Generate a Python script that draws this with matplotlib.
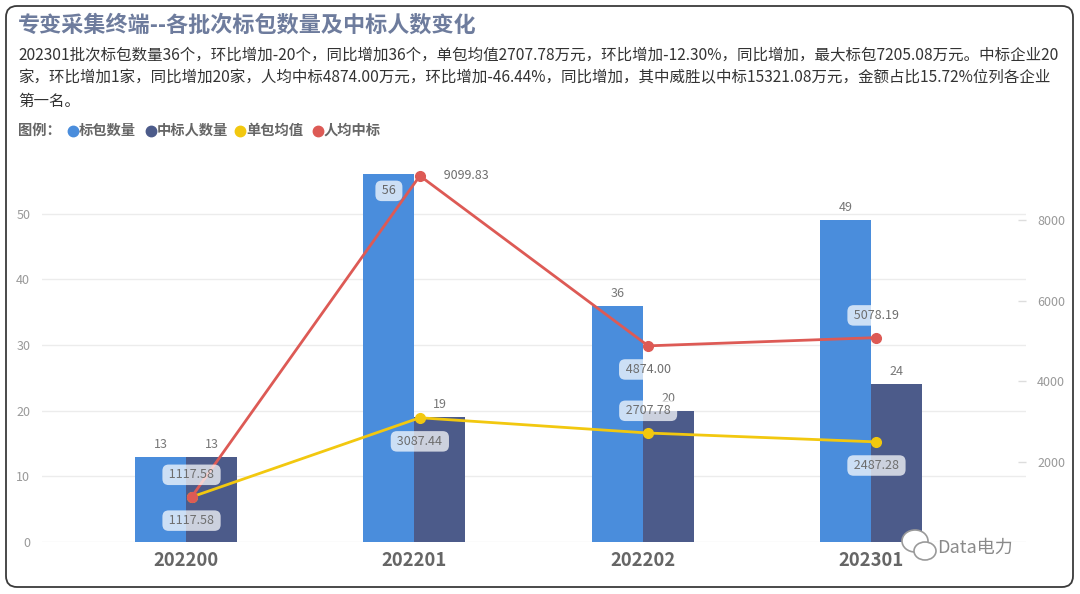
import numpy as np
import matplotlib
matplotlib.use('Agg')
import matplotlib.pyplot as plt
from matplotlib.patches import FancyBboxPatch, Ellipse
from matplotlib.lines import Line2D
from matplotlib.transforms import IdentityTransform

plt.rcParams['font.family'] = ['Noto Sans CJK SC', 'DejaVu Sans']

# data
batches = ['202200', '202201', '202202', '202301']
pkg_count = [13, 56, 36, 49]
winner_count = [13, 19, 20, 24]
avg_per_pkg = [1117.58, 3087.44, 2707.78, 2487.28]
avg_per_winner = [1117.58, 9099.83, 4874.00, 5078.19]

title = '专变采集终端--各批次标包数量及中标人数变化'
summary = [
    '202301批次标包数量36个，环比增加-20个，同比增加36个，单包均值2707.78万元，环比增加-12.30%，同比增加，最大标包7205.08万元。中标企业20',
    '家，环比增加1家，同比增加20家，人均中标4874.00万元，环比增加-46.44%，同比增加，其中威胜以中标15321.08万元，金额占比15.72%位列各企业',
    '第一名。',
]
legend_names = ['标包数量', '中标人数量', '单包均值', '人均中标']

# styles
W, H = 1080, 594
C_BLUE = '#4a8ddc'
C_NAVY = '#4c5b8a'
C_YEL = '#f2c80f'
C_RED = '#dd5a55'

# label placements for the line series
yel_place = ['below', 'below', 'above', 'below']
red_place = ['above', 'right', 'below', 'above']


def fx(x):
    return x / W


def fy(y):
    return 1 - y / H


fig = plt.figure(figsize=(W / 100, H / 100), dpi=100)

# outer rounded frame
frame = FancyBboxPatch((6, H - 587), 1067, 581, boxstyle='round,pad=0,rounding_size=11',
                       transform=IdentityTransform(), fill=False, ec='#3a3a3a', lw=1.3)
fig.add_artist(frame)

# title, summary and legend
fig.text(fx(18), fy(25), title, fontsize=15.9, fontweight='bold', color='#6e7c9d', va='center')
for i, line in enumerate(summary):
    fig.text(fx(18), fy(55 + 23 * i), line, fontsize=11.15, color='#333333', va='center')

fig.text(fx(18), fy(131), '图例：', fontsize=10.3, fontweight='bold', color='#666666', va='center')
leg_x = [73, 151, 240, 318]
for xx, name, c in zip(leg_x, legend_names, [C_BLUE, C_NAVY, C_YEL, C_RED]):
    fig.add_artist(Line2D([fx(xx)], [fy(131)], marker='o', ms=7.5, color=c, mec=c,
                          transform=fig.transFigure))
    fig.text(fx(xx + 6), fy(131), name, fontsize=10.3, fontweight='bold', color='#666666', va='center')

# main axes
ax = fig.add_axes([fx(42), 52 / H, (1026 - 42) / W, (542 - 165) / H])
ax2 = ax.twinx()

x = np.arange(len(batches))
bw = 0.223
lx = x + 0.024
ymax_left = 57.4
ymax_right = ymax_left * 163.2

ax.bar(x - bw / 2, pkg_count, bw, color=C_BLUE, zorder=2)
ax.bar(x + bw / 2, winner_count, bw, color=C_NAVY, zorder=2)

ax.set_xlim(-0.631, 3.679)
ax.set_ylim(0, ymax_left)
ax.set_yticks([0, 10, 20, 30, 40, 50])
ax.grid(axis='y', color='#ececec', lw=1, zorder=0)
ax.set_axisbelow(True)
for s in ax.spines.values():
    s.set_visible(False)
for s in ax2.spines.values():
    s.set_visible(False)
ax.tick_params(axis='y', length=0, pad=8.5, labelsize=9, labelcolor='#999999')
ax.set_xticks(x)
ax.set_xticklabels(batches, fontsize=13.3, fontweight='bold', color='#666666')
ax.tick_params(axis='x', length=0, pad=6.5)

box = dict(boxstyle='round,pad=0.3,rounding_size=0.5', fc='white', ec='none', alpha=0.72)

# bar value labels
for xi, v in zip(x - bw / 2, pkg_count):
    if v > 53:
        ax.annotate(f' {v} ', (xi, v), xytext=(0, -12), textcoords='offset points',
                    ha='center', va='center', fontsize=9, color='#666666', bbox=box, zorder=5)
    else:
        ax.annotate(str(v), (xi, v), xytext=(0, 9), textcoords='offset points',
                    ha='center', va='center', fontsize=9, color='#777777', zorder=5)
for xi, v in zip(x + bw / 2, winner_count):
    ax.annotate(str(v), (xi, v), xytext=(0, 9), textcoords='offset points',
                ha='center', va='center', fontsize=9, color='#777777', zorder=5)

# lines on secondary axis
ax2.plot(lx, avg_per_pkg, color=C_YEL, lw=2, marker='o', ms=7, zorder=3)
ax2.plot(lx, avg_per_winner, color=C_RED, lw=2, marker='o', ms=7, zorder=3)
ax2.set_ylim(0, ymax_right)
ax2.set_yticks([2000, 4000, 6000, 8000])
ax2.tick_params(axis='y', direction='in', length=6, width=1, color='#dddddd',
                pad=8, labelsize=9, labelcolor='#999999')


def line_label(xs, vals, places):
    for xi, v, p in zip(xs, vals, places):
        if p == 'below':
            off, ha = (0, -17), 'center'
        elif p == 'above':
            off, ha = (0, 16), 'center'
        else:
            off, ha = (15, 0), 'left'
        ax2.annotate(f' {v:.2f} ', (xi, v), xytext=off, textcoords='offset points',
                     ha=ha, va='center', fontsize=9, color='#6e6e6e', bbox=box, zorder=6)


line_label(lx, avg_per_pkg, yel_place)
line_label(lx, avg_per_winner, red_place)

# watermark
fig.add_artist(Ellipse((915, H - 541), 26, 22, transform=IdentityTransform(),
                       fc='white', ec='#9a9a9a', lw=1.2))
fig.add_artist(Ellipse((925, H - 551), 22, 18, transform=IdentityTransform(),
                       fc='white', ec='#9a9a9a', lw=1.2))
fig.text(fx(937), fy(548), 'Data电力', fontsize=13, color='#8a8a8a', va='center')

fig.savefig('out.png', dpi=100)
